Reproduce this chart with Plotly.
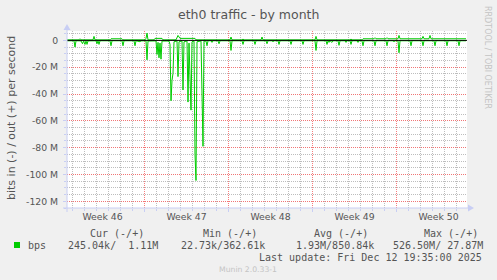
import plotly.graph_objects as go

# ---------------- data (hours since window start, values in Mbit/s) ----------------
in_hours = [0, 14, 16, 18, 28, 31, 33, 36, 38, 40, 42, 58, 60, 62, 64, 66, 86, 88, 90,
            110, 112, 114, 134, 136, 138, 144, 146, 148, 158, 160, 162, 178, 180, 182,
            184, 186, 188, 190, 204, 206, 208, 210, 212, 214, 220, 222, 224, 230, 232,
            234, 240, 242, 244, 248, 250, 254, 256, 258, 260, 268, 270, 272, 274, 278,
            280, 282, 288, 290, 292, 302, 304, 306, 326, 328, 330, 350, 352, 354, 374,
            376, 378, 398, 400, 402, 410, 412, 414, 422, 424, 426, 446, 448, 450, 470,
            472, 474, 496, 498, 500, 518, 520, 522, 524, 526, 530, 532, 542, 544, 546,
            556, 558, 560, 566, 568, 570, 580, 582, 584, 590, 592, 594, 614, 616, 618,
            638, 640, 642, 652, 654, 656, 662, 664, 666, 686, 688, 690, 710, 712, 714,
            734, 736, 738, 758, 760, 762, 782, 784, 786, 798]
in_mbps = [0.3, 0.3, 5, 0.3, 0.4, 2.5, 0.5, 3, 0.5, 3, 0.4, 0.3, 2.5, 0.4, 3, 0.3, 0.3, 4, 0.3,
           0.3, 4, 0.3, 0.3, 4, 0.3, 0.5, 1, 0.4, 0.3, 14.5, 0.5, 0.4, 10.5, 1.5,
           13, 2, 14, 0.5, 0.5, 3, 45, 30, 24.5, 1, 0.5, 27, 1, 0.5, 37,
           1, 0.5, 46, 2, 52, 1, 0.5, 85, 104.5, 1, 0.5, 40, 79, 0.5, 0.5,
           4, 0.3, 0.3, 1.5, 0.3, 0.3, 2.5, 0.3, 0.3, 7.5, 0.3, 0.3, 3, 0.3, 0.3,
           3, 0.3, 0.3, 2.5, 0.3, 0.3, 1, 0.3, 0.3, 3, 0.3, 0.3, 3, 0.3, 0.3,
           3, 0.3, 0.3, 7.5, 0.3, 0.3, 3, 0.3, 1.5, 0.3, 1.5, 0.3, 0.3, 3.7, 0.3,
           0.3, 1.5, 0.3, 0.3, 3, 0.3, 0.3, 1.5, 0.3, 0.3, 4, 0.3, 0.3, 4, 0.3,
           0.3, 4, 0.3, 0.3, 1, 0.3, 0.3, 9.2, 0.3, 0.3, 4, 0.3, 0.3, 4, 0.3,
           0.3, 4, 0.3, 0.3, 4, 0.3, 0.3, 4, 0.3, 0.3]

out_hours = [0, 24, 26, 28, 52, 54, 56, 86, 88, 110, 112, 156, 158, 160, 162, 174, 176,
             190, 192, 218, 222, 226, 256, 258, 326, 328, 330, 350, 352, 354, 388, 390,
             392, 496, 498, 500, 566, 568, 570, 590, 592, 614, 616, 618, 638, 640, 642,
             662, 664, 666, 710, 712, 714, 724, 726, 728, 798]
out_mbps = [0.4, 0.4, 1.2, 0.4, 0.4, 3, 0.4, 0.4, 1.2, 1.2, 0.4, 0.4, 1.5, 5.4, 0.4, 0.4, 1.5,
            1.5, 0.4, 0.4, 3.7, 1.5, 1.5, 0.4, 0.4, 2.5, 0.4, 0.4, 1, 0.4, 0.4, 2.5,
            0.4, 0.4, 3, 0.4, 0.4, 1, 0.4, 0.4, 1.2, 1.2, 2, 1.2, 1.2, 2, 1.2,
            1.2, 3.7, 1.2, 1.2, 3, 1.2, 1.2, 3.7, 1.2, 1.2]

x_range = [0, 800]
y_range = [-125, 7]
week_first_boundary = 155
week_hours = 168
day_hours = 24
week_label_hours = [71, 239, 407, 575, 743]
week_labels = ["Week 46", "Week 47", "Week 48", "Week 49", "Week 50"]
y_tick_vals = [0, -20, -40, -60, -80, -100, -120]
y_tick_text = ["0", "-20 M", "-40 M", "-60 M", "-80 M", "-100 M", "-120 M"]

title_text = "eth0 traffic - by month"
y_title_text = "bits in (-) / out (+) per second"
series_name = "bps"
legend_headers = ["Cur (-/+)", "Min (-/+)", "Avg (-/+)", "Max (-/+)"]
legend_values = ["245.04k/\u00a0\u00a01.11M", "22.73k/362.61k", "1.93M/850.84k", "526.50M/\u00a027.87M"]
last_update = "Last update: Fri Dec 12 19:35:00 2025"
munin_version = "Munin 2.0.33-1"
rrd_credit = "RRDTOOL / TOBI OETIKER"

# ---------------- layout geometry ----------------
W, H = 497, 280
L, R, T, B = 67, 30, 31, 72
PW, PH = W - L - R, H - T - B

def px(p):
    return (p - L) / PW

def py(p):
    return (T + PH - p) / PH

GREEN = "#00CC00"
FONT = "#555555"
AXIS = "#C8CEF4"
SANS = "DejaVu Sans"
MONO = "DejaVu Sans Mono"

fig = go.Figure()
fig.add_trace(go.Scatter(x=in_hours, y=[-v for v in in_mbps], mode="lines",
                         line=dict(color=GREEN, width=1), hoverinfo="skip", showlegend=False))
fig.add_trace(go.Scatter(x=out_hours, y=out_mbps, mode="lines",
                         line=dict(color=GREEN, width=1), hoverinfo="skip", showlegend=False))
# HRULE at zero (drawn on the overlay axis so it sits above the data)
fig.add_trace(go.Scatter(x=x_range, y=[0, 0], mode="lines", xaxis="x2",
                         line=dict(color="#000000", width=1), hoverinfo="skip", showlegend=False))

fig.update_layout(
    width=W, height=H,
    margin=dict(l=L, r=R, t=T, b=B, pad=0),
    paper_bgcolor="#F0F0F0", plot_bgcolor="#FFFFFF",
    showlegend=False,
    font=dict(family=SANS, size=9.3, color=FONT),
    xaxis=dict(range=x_range, tickmode="linear", tick0=week_first_boundary, dtick=week_hours,
               showticklabels=False, showgrid=True, gridcolor="rgba(245,110,110,0.9)",
               griddash="1px,1px", gridwidth=1, zeroline=False, showline=False,
               ticks="outside", ticklen=3, tickcolor=AXIS,
               minor=dict(tick0=week_first_boundary, dtick=day_hours, showgrid=True,
                          gridcolor="#BDBDBD", griddash="1px,1px", ticks="outside",
                          ticklen=2, tickcolor=AXIS)),
    xaxis2=dict(range=x_range, overlaying="x", side="bottom", tickmode="array",
                tickvals=week_label_hours, ticktext=week_labels, showgrid=False,
                zeroline=False, showline=False, ticks="", ticklabelstandoff=2,
                tickfont=dict(family=SANS, size=9.3, color=FONT)),
    yaxis=dict(range=y_range, tickmode="array", tickvals=y_tick_vals, ticktext=y_tick_text,
               showgrid=True, gridcolor="rgba(245,110,110,0.9)", griddash="1px,1px",
               zeroline=False, showline=False, ticks="outside", ticklen=3, tickcolor=AXIS,
               ticklabelstandoff=3,
               tickfont=dict(family=SANS, size=9.3, color=FONT),
               minor=dict(tick0=0, dtick=5, showgrid=True, gridcolor="#BDBDBD",
                          griddash="1px,1px", ticks="outside", ticklen=2, tickcolor=AXIS)),
)

shapes = [
    # x axis line + arrow
    dict(type="line", xref="paper", yref="paper", x0=px(63), x1=px(472), y0=0, y1=0,
         line=dict(color=AXIS, width=1), layer="above"),
    dict(type="path", xref="paper", yref="paper",
         path=f"M {px(468)} {py(204.5)} L {px(474)} {py(208)} L {px(468)} {py(211.5)} Z",
         fillcolor=AXIS, line=dict(color=AXIS, width=0), layer="above"),
    # y axis line + arrow
    dict(type="line", xref="paper", yref="paper", x0=0, x1=0, y0=py(212), y1=py(29),
         line=dict(color=AXIS, width=1), layer="above"),
    dict(type="path", xref="paper", yref="paper",
         path=f"M {px(63.5)} {py(30)} L {px(67)} {py(24)} L {px(70.5)} {py(30)} Z",
         fillcolor=AXIS, line=dict(color=AXIS, width=0), layer="above"),
    # legend colour box
    dict(type="rect", xref="paper", yref="paper", x0=px(14), x1=px(20), y0=py(248), y1=py(242),
         fillcolor=GREEN, line=dict(color=GREEN, width=0)),
]
fig.update_layout(shapes=shapes)

ann = []
def text(s, x, y, size, color=FONT, family=SANS, xanchor="left", angle=0):
    ann.append(dict(text=s, x=px(x), y=py(y), xref="paper", yref="paper", showarrow=False,
                    xanchor=xanchor, yanchor="middle", textangle=angle, borderpad=0,
                    font=dict(family=family, size=size, color=color)))

text(title_text, 248, 14, 12.5, xanchor="center")
text(y_title_text, 11, 118, 11, xanchor="center", angle=-90)
text(rrd_credit, 488, 57, 8, color="#C4C4C4", xanchor="center", angle=90)
text(munin_version, 248, 269, 7.7, color="#C4C4C4", xanchor="center")

header_x = [89, 201.7, 312.7, 423]
value_x = [67, 180.3, 295, 392]
for s, x in zip(legend_headers, header_x):
    text(s, x, 233, 10, family=MONO)
text(series_name, 27, 245, 10, family=MONO)
for s, x in zip(legend_values, value_x):
    text(s, x, 245, 10, family=MONO)
text(last_update, 483, 257, 10, family=MONO, xanchor="right")

fig.update_layout(annotations=ann)
fig.write_html("out.html")
